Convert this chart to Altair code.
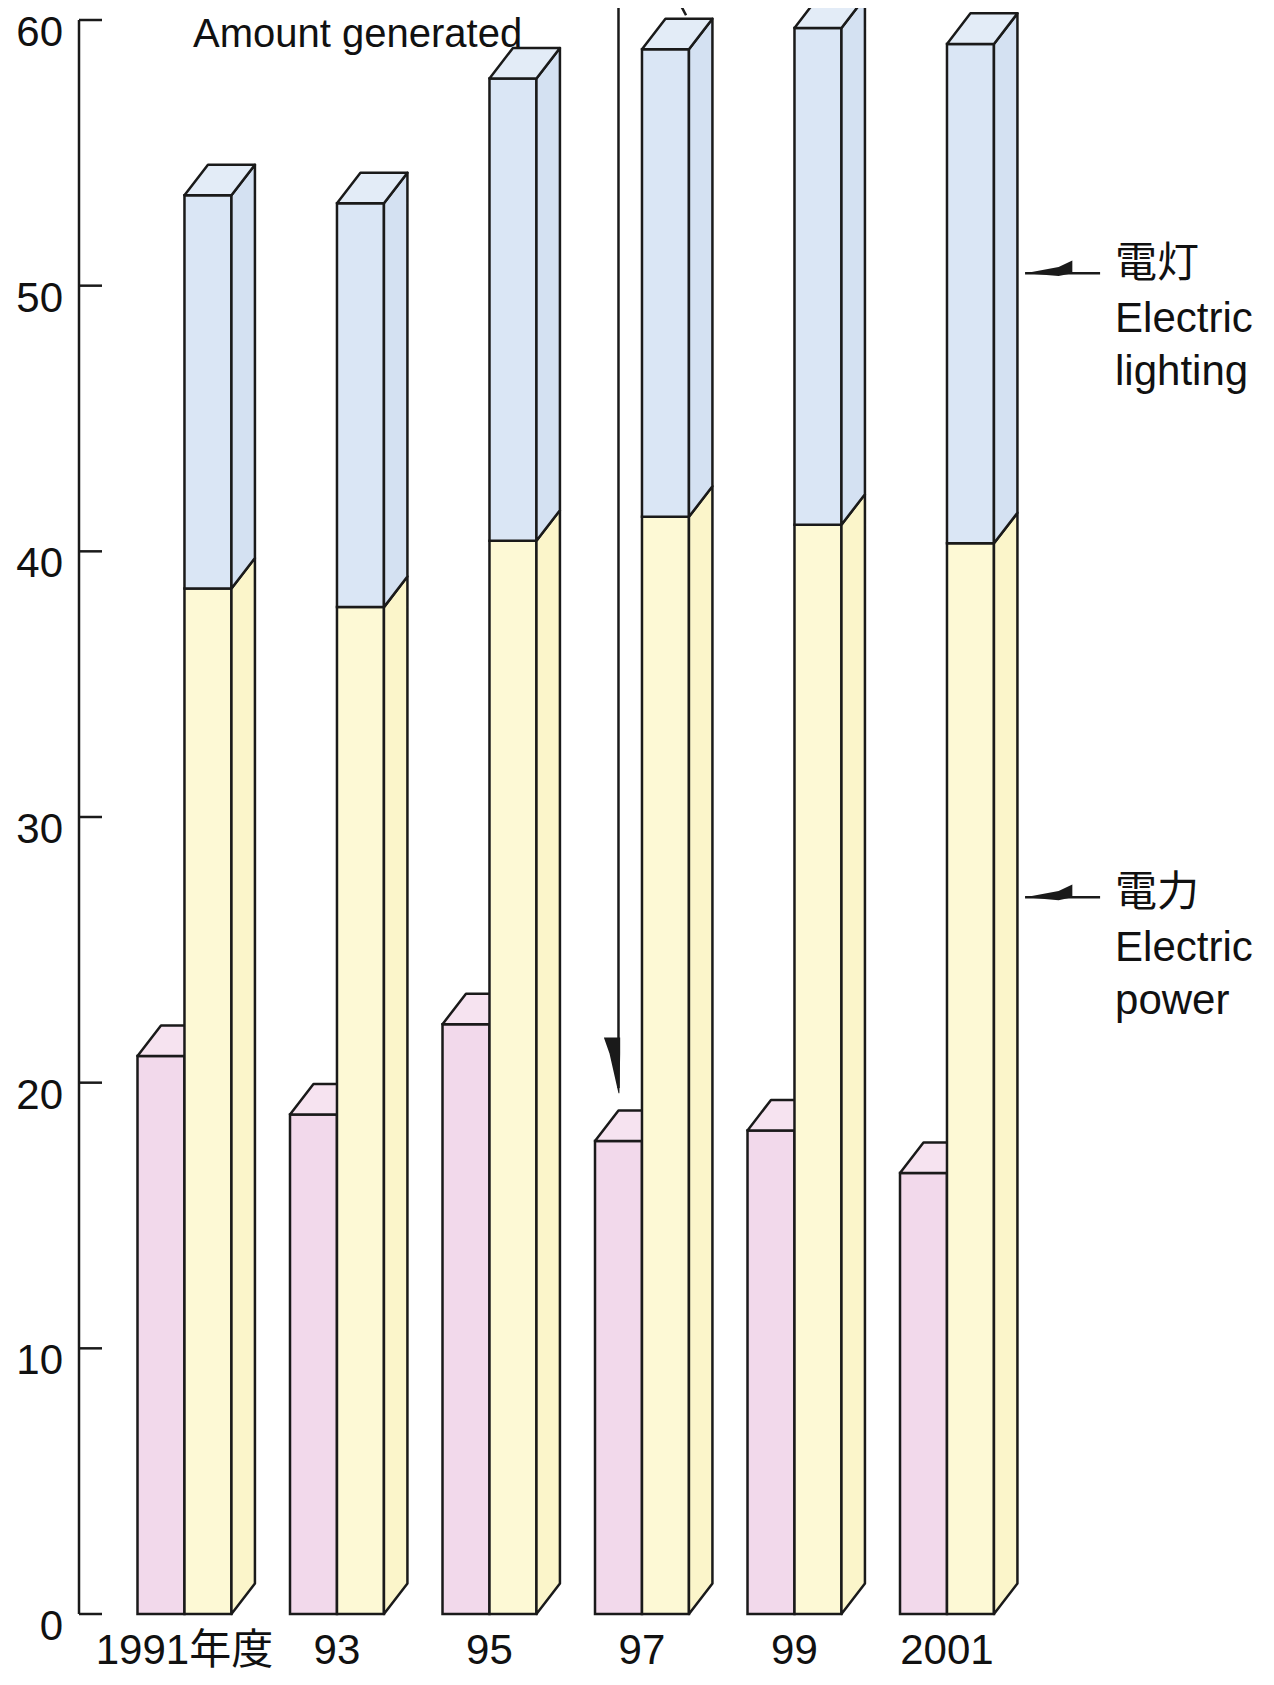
import altair as alt
import pandas as pd

# ---- data ----
years = ["1991年度", "93", "95", "97", "99", "2001"]
generated = [21.0, 18.8, 22.2, 17.8, 18.2, 16.6]          # pink bars (Amount generated)
electric_power = [38.6, 37.9, 40.4, 41.3, 41.0, 40.3]      # yellow segment (電力)
electric_lighting = [14.8, 15.2, 17.4, 17.6, 18.7, 18.8]   # blue segment (電灯)
y_ticks = [0, 10, 20, 30, 40, 50, 60]

# ---- styling / geometry constants ----
PINK, PINK_TOP = "#f2d9eb", "#f6e3f0"
YELLOW, YELLOW_SIDE = "#fdf9d5", "#fbf5ca"
BLUE, BLUE_SIDE, BLUE_TOP = "#dae6f5", "#d4e1f2", "#e3ecf7"
INK = "#1a1a1a"
TXT = "#111111"
SW = 2.5
W = 0.308      # bar front width (group spacing = 1)
DX = 0.154     # depth offset in x
DY = 1.15      # depth offset in y (data units)
FONT = "Liberation Sans, Noto Sans CJK JP"
FS = 42

xscale = alt.Scale(domain=[-0.3836, 7.3999], nice=False, zero=False)
yscale = alt.Scale(domain=[0, 60], nice=False, zero=False)

fronts, pink_tops, sides, tops = [], [], [], []
for i, yr in enumerate(years):
    p = generated[i]
    ep = electric_power[i]
    tot = ep + electric_lighting[i]
    # pink box
    fronts.append(dict(g="pink", x=i, x2=i + W, y=0, y2=p, fill=PINK))
    fid = f"pt{i}"
    pink_tops += [dict(f=fid, y=p, x=i, x2=i + W, fill=PINK_TOP),
                  dict(f=fid, y=p + DY, x=i + DX, x2=i + W + DX, fill=PINK_TOP)]
    # stacked box fronts
    fronts.append(dict(g="stack", x=i + W, x2=i + 2 * W, y=0, y2=ep, fill=YELLOW))
    fronts.append(dict(g="stack", x=i + W, x2=i + 2 * W, y=ep, y2=tot, fill=BLUE))
    xs = i + 2 * W
    sides += [dict(f=f"ys{i}", x=xs, y=0, y2=ep, fill=YELLOW_SIDE),
              dict(f=f"ys{i}", x=xs + DX, y=DY, y2=ep + DY, fill=YELLOW_SIDE),
              dict(f=f"bs{i}", x=xs, y=ep, y2=tot, fill=BLUE_SIDE),
              dict(f=f"bs{i}", x=xs + DX, y=ep + DY, y2=tot + DY, fill=BLUE_SIDE)]
    tops += [dict(f=f"bt{i}", y=tot, x=i + W, x2=i + 2 * W, fill=BLUE_TOP),
             dict(f=f"bt{i}", y=tot + DY, x=i + W + DX, x2=i + 2 * W + DX, fill=BLUE_TOP)]

fronts = pd.DataFrame(fronts)
pink_tops = pd.DataFrame(pink_tops)
sides = pd.DataFrame(sides)
tops = pd.DataFrame(tops)

fill = alt.Color("fill:N", scale=None)


def X(f):
    return alt.X(f, type="quantitative", scale=xscale, axis=None, stack=None)


def Y(f):
    return alt.Y(f, type="quantitative", scale=yscale, axis=None, stack=None)


# ---- hand-drawn y axis (domain line, inward ticks, labels) ----
tick_df = pd.DataFrame({"v": y_ticks, "t": [str(v) for v in y_ticks]})
axis_line = alt.Chart(pd.DataFrame({"a": [0], "b": [60]})).mark_rule(
    color=INK, strokeWidth=SW).encode(y=Y("a"), y2="b", x=alt.value(0))
ticks = alt.Chart(tick_df).mark_rule(color=INK, strokeWidth=SW).encode(
    y=Y("v"), x=alt.value(0), x2=alt.value(23))
tick_labels = alt.Chart(tick_df).mark_text(
    font=FONT, fontSize=FS, color=TXT, align="right", baseline="middle", dy=13).encode(
    y=Y("v"), x=alt.value(-16), text="t:N")

pink_front = alt.Chart(fronts[fronts.g == "pink"]).mark_rect(
    stroke=INK, strokeWidth=SW).encode(x=X("x"), x2="x2", y=Y("y"), y2="y2", color=fill)

pink_top = alt.Chart(pink_tops).mark_area(
    orient="horizontal", stroke=INK, strokeWidth=SW, strokeJoin="round").encode(
    y=Y("y"), x=X("x"), x2="x2", detail="f:N", color=fill)

stack_front = alt.Chart(fronts[fronts.g == "stack"]).mark_rect(
    stroke=INK, strokeWidth=SW).encode(x=X("x"), x2="x2", y=Y("y"), y2="y2", color=fill)

side = alt.Chart(sides).mark_area(
    orient="vertical", stroke=INK, strokeWidth=SW, strokeJoin="round").encode(
    x=X("x"), y=Y("y"), y2="y2", detail="f:N", color=fill)

top = alt.Chart(tops).mark_area(
    orient="horizontal", stroke=INK, strokeWidth=SW, strokeJoin="round").encode(
    y=Y("y"), x=X("x"), x2="x2", detail="f:N", color=fill)

# x category labels centred under each group
lab_df = pd.DataFrame({"t": years, "x": [i + W for i in range(len(years))], "y": -1.9})
xlabels = alt.Chart(lab_df).mark_text(
    font=FONT, fontSize=FS, color=TXT, baseline="alphabetic", align="center").encode(
    x=X("x"), y=Y("y"), text="t:N")

# ---- annotations ----
ann_txt = pd.DataFrame({
    "t": ["電灯", "Electric", "lighting", "電力", "Electric", "power"],
    "x": [6.41] * 6,
    "y": [50.32, 48.25, 46.26, 26.65, 24.58, 22.58],
})
ann_text = alt.Chart(ann_txt).mark_text(
    font=FONT, fontSize=FS, color=TXT, align="left", baseline="alphabetic").encode(
    x=X("x"), y=Y("y"), text="t:N")

top_txt = pd.DataFrame({"t": ["Amount generated"], "x": [0.364], "y": [58.98]})
top_text = alt.Chart(top_txt).mark_text(
    font=FONT, fontSize=40, color=TXT, align="left", baseline="alphabetic").encode(
    x=X("x"), y=Y("y"), text="t:N")

lines_df = pd.DataFrame({
    "x": [5.82, 5.82, 3.154, 3.544],
    "x2": [6.312, 6.312, 3.154, 3.597],
    "y": [50.47, 26.98, 60.8, 60.75],
    "y2": [50.47, 26.98, 19.8, 60.18],
})
ann_lines = alt.Chart(lines_df).mark_rule(color=INK, strokeWidth=SW).encode(
    x=X("x"), x2="x2", y=Y("y"), y2="y2")

# arrow heads (thin wedges)
heads_h = pd.DataFrame({
    "f": ["a1", "a1", "a1", "a2", "a2", "a2"],
    "x": [5.82, 6.04, 6.13, 5.82, 6.04, 6.13],
    "y": [50.47, 50.36, 50.47, 26.98, 26.87, 26.98],
    "y2": [50.47, 50.70, 50.95, 26.98, 27.21, 27.46],
})
head_h = alt.Chart(heads_h).mark_area(orient="vertical", color=INK).encode(
    x=X("x"), y=Y("y"), y2="y2", detail="f:N")

heads_v = pd.DataFrame({
    "f": ["a3", "a3", "a3"],
    "y": [19.6, 21.1, 21.7],
    "x": [3.154, 3.095, 3.058],
    "x2": [3.160, 3.165, 3.165],
})
head_v = alt.Chart(heads_v).mark_area(orient="horizontal", color=INK).encode(
    y=Y("y"), x=X("x"), x2="x2", detail="f:N")

chart = alt.layer(
    pink_front, pink_top, stack_front, side, top,
    axis_line, ticks, tick_labels,
    xlabels, ann_text, top_text, ann_lines, head_h, head_v,
).properties(
    width=1187, height=1594,
    padding={"left": 71, "top": 12, "right": 0, "bottom": 60},
    autosize="none",
    background="white",
).configure_view(stroke=None)

chart.save("out.html", embed_options={"renderer": "svg", "actions": False})
